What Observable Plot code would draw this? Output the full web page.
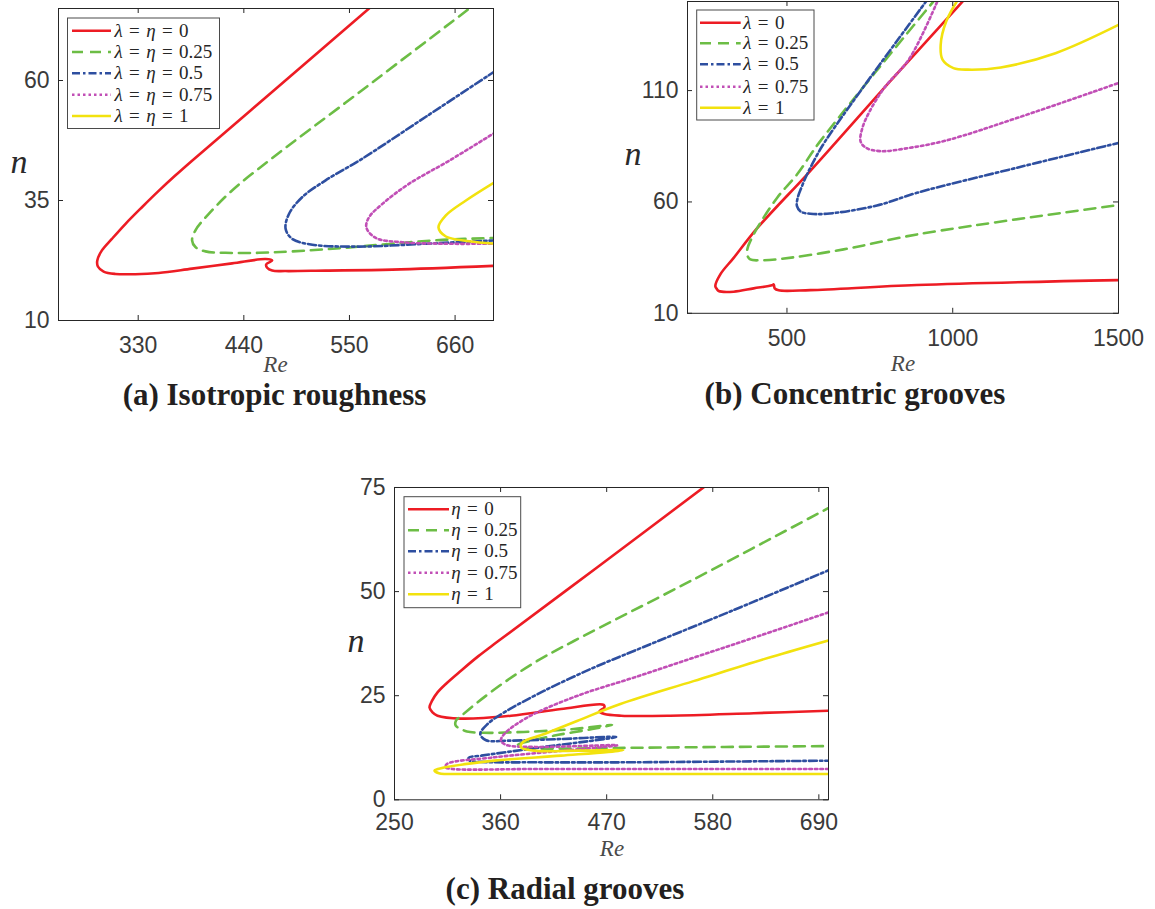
<!DOCTYPE html>
<html><head><meta charset="utf-8">
<script src="https://cdn.jsdelivr.net/npm/d3@7"></script>
<script src="https://cdn.jsdelivr.net/npm/@observablehq/plot@0.6"></script>
<style>
html,body{margin:0;padding:0;background:#fff;}
#root{position:relative;width:1155px;height:909px;overflow:hidden;background:#fff;}
</style></head>
<body><div id="root"></div>
<script>
// ---------- shared series styling ----------
const seriesValues = ["0", "0.25", "0.5", "0.75", "1"];
const seriesColors = ["#ED1C24", "#6CBD45", "#2E4FA0", "#C14FB6", "#F2E20E"];
const seriesDash = [null, "11,7", "8,3,2.5,3", "2.5,3", null];

// ---------- (a) Isotropic roughness : [Re, n] ----------
const isoRe = { domain: [247, 700], ticks: [330, 440, 550, 660] };
const isoN = { domain: [10, 75], ticks: [10, 35, 60] };
const iso0 = [[582,77],[470,57.7],[386.1,43.3],[368,40.1],[351.3,37.0],[333.9,33.6],[316.6,30.1],[302.6,27],[292.2,24.6],[287.4,22.5],[288,21.25],[294,20.2],[306.2,19.7],[327,19.65],[351.3,19.9],[386.1,20.8],[427.8,21.9],[462.6,22.8],[469.5,22.5],[463.3,21.7],[464.3,21],[469.5,20.4],[483.5,20.3],[525.2,20.4],[594.7,20.6],[702,21.4]];
const iso025 = [[688,77],[560,57.5],[466.1,43.3],[427.8,37.1],[403.5,32.2],[389.6,28.8],[386.1,26.7],[389.6,25.3],[400.1,24.4],[420.9,24.1],[455.7,24.1],[490.4,24.4],[542.5,25.1],[594.7,26],[646.9,26.8],[702,27.2]];
const iso05 = [[702,62],[630,52.5],[560,43.3],[525.2,39.2],[500.8,35.7],[487,32.2],[483.5,29.1],[490.4,27],[511.3,25.8],[560,25.4],[629.6,26],[702,26.7]];
const iso075 = [[702,49.2],[653.9,43.3],[612.2,38.5],[584.3,34.3],[570.4,31.5],[567.6,29.4],[577.4,27.2],[605.2,26.3],[646.9,26],[702,26]];
const iso1 = [[702,38.9],[671.3,35],[650.4,31.9],[642.7,29.4],[650.4,27.5],[674.7,26.5],[702,26]];

// ---------- (b) Concentric grooves : [Re, n] ----------
const conRe = { domain: [200, 1500], ticks: [500, 1000, 1500] };
const conN = { domain: [10, 150], ticks: [10, 60, 110] };
const con0 = [[1042,152],[800,112.3],[650.8,87.3],[560.4,72.3],[409.6,48.1],[339.3,34.9],[299,27.5],[283.9,22.2],[289,20.8],[294,20],[339.3,19.7],[399.6,21.2],[455,22.6],[460,23],[463,21.2],[475,20.3],[570.3,20.4],[892,22.7],[1500,24.9]];
const con025 = [[952.7,152],[600.5,87.3],[530.2,72.3],[470,61.8],[409.6,48.1],[389.4,42.4],[381.5,39.4],[379.4,36.5],[389.4,34.2],[419.5,33.8],[470,34.2],[671,38.7],[892,45.4],[1500,58.6]];
const con05 = [[929.4,152],[615.6,87.3],[575.5,76.8],[560.4,72.3],[545.3,67.1],[532.3,61.8],[530.2,58.1],[542.3,55.6],[570.3,54.7],[620.7,54.7],[771.5,58.4],[892,64.1],[1200,75.6],[1500,86.5]];
const con075 = [[959.2,152],[870.3,124.6],[793.4,111.2],[749.5,100.7],[727.5,93.2],[722,87.2],[738.5,84.3],[782.4,82.8],[870.3,84.3],[980.2,87.6],[1200,98],[1500,113.4]];
const con1 = [[1020.5,152],[980.2,141],[963.7,130.6],[969.2,123.9],[1002.2,120.1],[1046.2,119.4],[1145,120.4],[1309.9,126.8],[1500,139.5]];

// ---------- (c) Radial grooves : [Re, n] ----------
const radRe = { domain: [250, 700], ticks: [250, 360, 470, 580, 690] };
const radN = { domain: [0, 75], ticks: [0, 25, 50, 75] };
const rad0 = [[581.8,77],[460,55.8],[356.9,38.0],[337,34.5],[318.9,31.0],[304,28.0],[294.6,25.8],[289,23.8],[286.3,22.2],[289.4,21],[294.6,20.2],[318.9,19.5],[370.8,20.2],[422.7,21.8],[466.9,22.8],[467.6,22.2],[462.4,21.2],[467.6,20.6],[485,20.2],[536.1,20.2],[622.6,20.8],[702,21.4]];
const rad025 = [[705,70.7],[560,52.9],[436.5,38.2],[398.4,33.4],[363.8,28.2],[336.1,23.4],[320,20.3],[313.7,19],[313.5,17.8],[318.9,17],[325.1,16.4],[342,16.1],[383.9,16.3],[435.8,17],[475.6,18],[455,17],[420,15.6],[392,14.2],[378,13.2],[385,12.5],[420,12.3],[500,12.5],[702,12.9]];
const rad05 = [[705,55.6],[600,45.4],[498.8,35.8],[457.2,31.8],[405.4,26.2],[363.8,21],[346.5,18.2],[338.9,15.8],[344.9,14.3],[367.3,14.2],[422.7,14.6],[479.8,15.1],[405.4,12.7],[340,10.6],[327,10.1],[328,9.4],[340,9.1],[400,9.0],[484.2,9],[702,9.4]];
const rad075 = [[705,45.4],[615.7,38.4],[561,34.2],[498.8,29.4],[439.9,25],[388,19.8],[363.8,15.8],[360.4,14.2],[365.6,13.2],[395,12.7],[480.8,13.1],[420,11.7],[353.5,10.2],[304.4,8.6],[303,7.8],[310,7.4],[400,7.4],[702,7.4]];
const rad1 = [[705,38.6],[640.6,34.3],[560,28.5],[484.2,23],[439.9,19],[405.4,15.8],[382.8,13.8],[381.2,12.6],[395,11.8],[439.9,11.8],[487,11.9],[422.7,10.6],[353.5,9.4],[295,7.4],[291.5,7],[296,6.4],[330,6.2],[500,6.2],[702,6.2]];

// ---------- text ----------
const titles = ["(a) Isotropic roughness", "(b) Concentric grooves", "(c) Radial grooves"];
const legendPrefix = [[["λ", 1], ["\u2004=\u2004", 0], ["η", 1], ["\u2004=\u2004", 0]], [["λ", 1], ["\u2004=\u2004", 0]], [["η", 1], ["\u2004=\u2004", 0]]];

const root = document.getElementById("root");

function drawPanel(p) {
  const mL = 62, mR = 14, mT = 14, mB = 46;
  const w = p.w, h = p.h;
  const lines = p.curves.map((c, i) => Plot.line(c, {
    x: d => d[0], y: d => d[1], stroke: seriesColors[i], strokeWidth: 2.6,
    strokeDasharray: seriesDash[i], clip: true, curve: "catmull-rom"
  }));
  const tk = "#262626";
  const svg = Plot.plot({
    width: w + mL + mR, height: h + mT + mB,
    marginLeft: mL, marginRight: mR, marginTop: mT, marginBottom: mB,
    x: { domain: p.x.domain }, y: { domain: p.y.domain },
    style: { background: "transparent", fontFamily: "'Liberation Sans', Arial, sans-serif", overflow: "visible" },
    marks: [
      ...lines,
      Plot.frame({ stroke: tk, strokeWidth: 1 }),
      Plot.tickX(p.x.ticks, { x: d => d, insetTop: h - 5, stroke: tk }),
      Plot.tickX(p.x.ticks, { x: d => d, insetBottom: h - 5, stroke: tk }),
      Plot.tickY(p.y.ticks, { y: d => d, insetRight: w - 5, stroke: tk }),
      Plot.tickY(p.y.ticks, { y: d => d, insetLeft: w - 5, stroke: tk }),
      Plot.axisX({ ticks: p.x.ticks, tickFormat: d => String(d), tickSize: 0, tickPadding: p.padX, label: null, fontSize: 23, fill: "#3a3a3a" }),
      Plot.axisY({ ticks: p.y.ticks, tickFormat: d => String(d), tickSize: 0, tickPadding: 9, label: null, fontSize: 23, fill: "#3a3a3a" })
    ]
  });
  svg.style.position = "absolute";
  svg.style.left = (p.left - mL) + "px";
  svg.style.top = (p.top - mT) + "px";
  root.appendChild(svg);
}

drawPanel({ left: 58, top: 8, w: 435, h: 312, x: isoRe, y: isoN, padX: 16, curves: [iso0, iso025, iso05, iso075, iso1] });
drawPanel({ left: 686.5, top: 0.5, w: 431, h: 311.8, x: conRe, y: conN, padX: 16, curves: [con0, con025, con05, con075, con1] });
drawPanel({ left: 394.3, top: 486.7, w: 434, h: 312.3, x: radRe, y: radN, padX: 14, curves: [rad0, rad025, rad05, rad075, rad1] });

// ---------- overlay text: titles, axis labels, legends ----------
const ov = d3.select(root).append("svg").attr("width", 1155).attr("height", 909)
  .style("position", "absolute").style("left", "0px").style("top", "0px");
const serif = "'Liberation Serif', 'Times New Roman', serif";

const titlePos = [[274.5, 405], [855, 404], [565, 899]];
titles.forEach((t, i) => ov.append("text").attr("x", titlePos[i][0]).attr("y", titlePos[i][1])
  .attr("text-anchor", "middle").attr("font-family", serif).attr("font-weight", "bold")
  .attr("font-size", 31).attr("fill", "#231f20").text(t));

const reePos = [[275.5, 372], [903, 371], [612, 856]];
reePos.forEach(p => ov.append("text").attr("x", p[0]).attr("y", p[1]).attr("text-anchor", "middle")
  .attr("font-family", serif).attr("font-style", "italic").attr("font-size", 23).attr("fill", "#4a4a4a").text("Re"));
const nPos = [[19, 173], [633, 165], [356, 652]];
nPos.forEach(p => ov.append("text").attr("x", p[0]).attr("y", p[1]).attr("text-anchor", "middle")
  .attr("font-family", serif).attr("font-style", "italic").attr("font-size", 34).attr("fill", "#2a2a2a").text("n"));

const legends = [
  { box: [67.5, 18, 152, 110.5], lx: [72, 111], tx: 114.5, rows: [30.7, 52, 73.3, 94.7, 116] },
  { box: [696.7, 10, 117.3, 110], lx: [700, 740.7], tx: 743.3, rows: [22.7, 43.3, 64.3, 86.7, 107.7] },
  { box: [404, 496.7, 116.7, 111], lx: [408, 449], tx: 451.3, rows: [509.3, 530.3, 551.3, 572.7, 594.3] }
];
legends.forEach((L, li) => {
  ov.append("rect").attr("x", L.box[0]).attr("y", L.box[1]).attr("width", L.box[2]).attr("height", L.box[3])
    .attr("fill", "#fff").attr("stroke", "#4a4a4a").attr("stroke-width", 1);
  seriesValues.forEach((v, i) => {
    const y = L.rows[i];
    ov.append("line").attr("x1", L.lx[0]).attr("x2", L.lx[1]).attr("y1", y).attr("y2", y)
      .attr("stroke", seriesColors[i]).attr("stroke-width", 2.6)
      .attr("stroke-dasharray", seriesDash[i]);
    const t = ov.append("text").attr("x", L.tx).attr("y", y + 6).attr("font-family", serif)
      .attr("font-size", 19).attr("fill", "#262626");
    legendPrefix[li].forEach(([s, it]) => t.append("tspan").attr("font-style", it ? "italic" : "normal").text(s));
    t.append("tspan").text(v);
  });
});
</script>
</body></html>
